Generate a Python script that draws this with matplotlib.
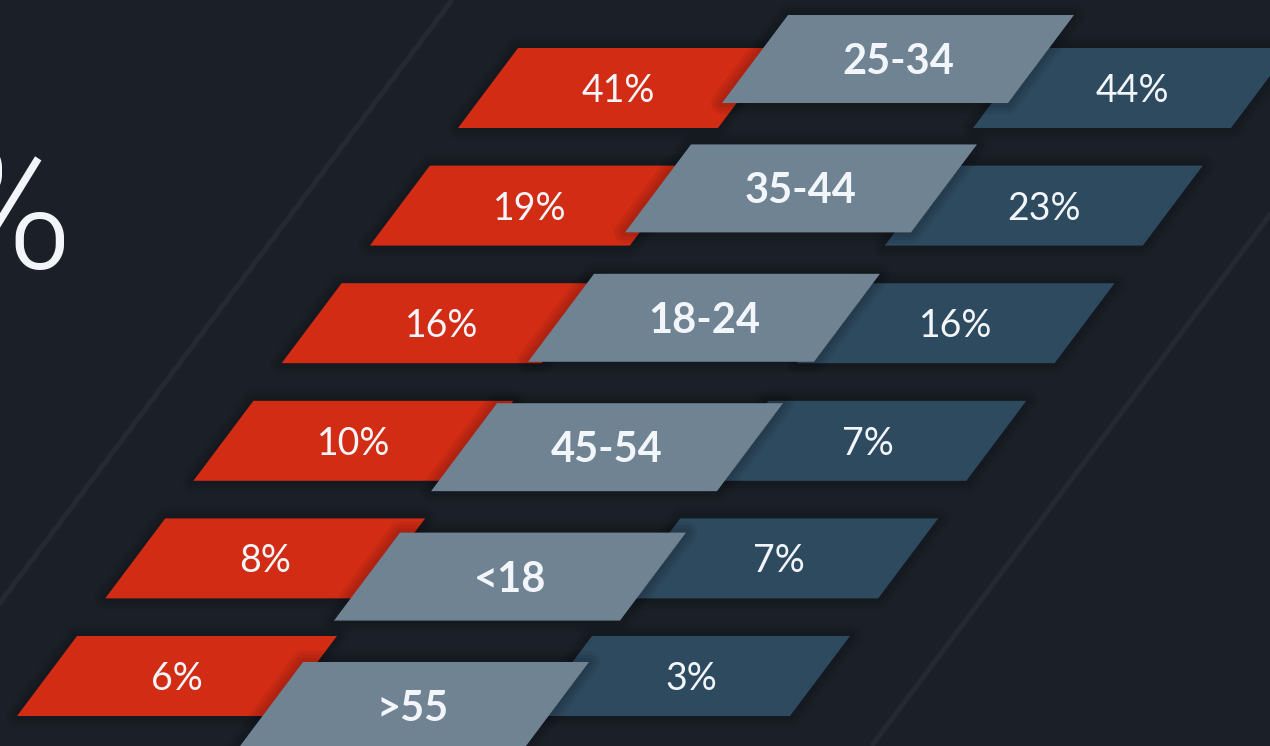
import matplotlib
matplotlib.use("Agg")
import matplotlib.pyplot as plt
from matplotlib.patches import Polygon

# Data (top row to bottom row)
age_groups = ["25-34", "35-44", "18-24", "45-54", "<18", ">55"]
left_share = [41, 19, 16, 10, 8, 6]     # red column
right_share = [44, 23, 16, 7, 7, 3]     # dark blue column

BG = "#1b2028"
RED = "#d32c15"
GREY = "#6f8393"
DARK = "#2e4a5f"
LINE = "#252a32"
TXT = "#f2f6fb"

SLANT = 0.75  # horizontal shift per pixel of height

fig = plt.figure(figsize=(12.7, 7.46), dpi=100, facecolor=BG)
ax = fig.add_axes([0, 0, 1, 1])
ax.set_facecolor(BG)
ax.set_xlim(0, 1270)
ax.set_ylim(746, 0)
ax.axis("off")


def parallelogram(x_bl, y_bot, w, h, color, z):
    pts = [(x_bl, y_bot), (x_bl + w, y_bot),
           (x_bl + w + SLANT * h, y_bot - h), (x_bl + SLANT * h, y_bot - h)]
    # soft shadow
    for lw in (16, 11, 6):
        ax.add_patch(Polygon(pts, closed=True, fc="black", ec="black", lw=lw,
                             alpha=0.06, joinstyle="round", zorder=z - 0.5))
    ax.add_patch(Polygon(pts, closed=True, fc=color, ec="none", zorder=z))
    return x_bl + w / 2 + SLANT * h / 2, y_bot - h / 2


# background diagonal stripes
for x_top in (452, 1431):
    ax.plot([x_top, x_top - SLANT * 746], [0, 746], color=LINE, lw=3.8,
            solid_capstyle="butt", zorder=1)

# large cut-off number on the left
ax.text(73, 268, "2%", color=TXT, fontsize=125, family="Roboto",
        fontweight=300, ha="right", va="baseline", zorder=2)

for i, (age, lv, rv) in enumerate(zip(age_groups, left_share, right_share)):
    y_side = 128 + 117.6 * i
    x_red = 458 - 88.2 * i
    cx, cy = parallelogram(x_red, y_side, 260, 80, RED, 3)
    ax.text(cx, cy + 14, f"{lv}%", color=TXT, fontsize=27, family="Lato",
            ha="center", va="baseline", zorder=7)

    cx, cy = parallelogram(x_red + 515, y_side, 258, 80, DARK, 3)
    ax.text(cx, cy + 14, f"{rv}%", color=TXT, fontsize=27, family="Lato",
            ha="center", va="baseline", zorder=7)

    y_grey = 103 + 129.4 * i
    x_grey = 722 - 97 * i
    cx, cy = parallelogram(x_grey, y_grey, 286, 88, GREY, 5)
    ax.text(cx, cy + 15, age, color=TXT, fontsize=30, family="Lato",
            fontweight="bold", ha="center", va="baseline", zorder=7)

fig.savefig("out.png", dpi=100, facecolor=BG)
